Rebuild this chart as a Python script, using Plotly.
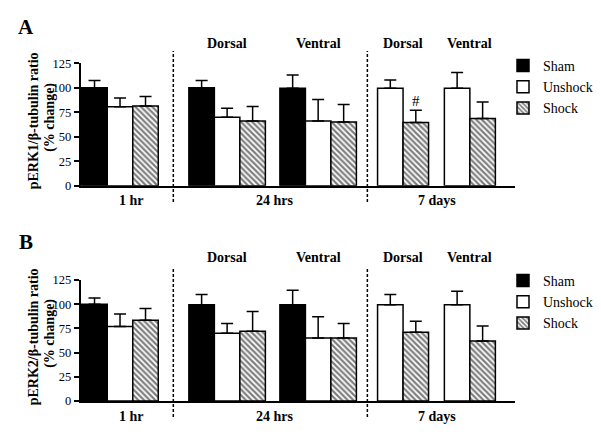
import plotly.graph_objects as go

# ---------------- data ----------------
groups = ["1 hr", "24 hrs Dorsal", "24 hrs Ventral", "7 days Dorsal", "7 days Ventral"]
time_labels = ["1 hr", "24 hrs", "7 days"]
region_labels = ["Dorsal", "Ventral", "Dorsal", "Ventral"]
series_names = ["Sham", "Unshock", "Shock"]

# Panel A: pERK1
a_sham = [100, 100, 99.5, None, None]
a_sham_err = [7.5, 7.5, 13.5, None, None]
a_unshock = [80.5, 70, 66, 99.5, 99.5]
a_unshock_err = [9, 9, 22, 8.5, 16]
a_shock = [81.5, 66, 65, 64.5, 68.5]
a_shock_err = [9.5, 15, 18, 12.5, 17]

# Panel B: pERK2
b_sham = [100, 99.5, 99.5, None, None]
b_sham_err = [6.5, 10.5, 15, None, None]
b_unshock = [77, 70, 65, 99.5, 99.5]
b_unshock_err = [13, 10, 22, 10.5, 14]
b_shock = [83.5, 72, 65, 71, 62]
b_shock_err = [12, 20.5, 15, 11.5, 15.5]

y_ticks = [0, 25, 50, 75, 100, 125]

# ---------------- layout constants ----------------
W, H = 601, 441
FONT = "Liberation Serif, Times New Roman, serif"
group_start = [0.05, 4.25, 7.82, 11.65, 14.27]

def slot(gi, si):
    # 7-day groups have no sham bar
    if gi >= 3:
        return si - 1
    return si

X_RANGE = [0, 17.04]
dash_x = [3.64, 11.25]
time_label_x = [2.0, 7.63, 13.97]
X0_PX, X1_PX = 80.5, 515

def px(xp):
    return xp / W

def py(yp):
    return 1 - yp / H

def xdata_to_paper(xv):
    return px(X0_PX + (xv - X_RANGE[0]) / (X_RANGE[1] - X_RANGE[0]) * (X1_PX - X0_PX))

fig = go.Figure()

styles = {
    "Sham": dict(color="black"),
    "Unshock": dict(color="white"),
    "Shock": dict(color="white", pattern=dict(shape="\\", fgcolor="black", bgcolor="white", size=4, solidity=0.55)),
}

panels = [
    ("x", "y", "legend", [a_sham, a_unshock, a_shock], [a_sham_err, a_unshock_err, a_shock_err]),
    ("x2", "y2", "legend2", [b_sham, b_unshock, b_shock], [b_sham_err, b_unshock_err, b_shock_err]),
]

for xa, ya, lg, vals, errs in panels:
    for si, name in enumerate(series_names):
        xs, ys, es = [], [], []
        for gi in range(len(groups)):
            v = vals[si][gi]
            if v is None:
                continue
            xs.append(group_start[gi] + slot(gi, si) + 0.5)
            ys.append(v)
            es.append(errs[si][gi])
        st = styles[name]
        marker = dict(color=st["color"], line=dict(color="black", width=1.5))
        if "pattern" in st:
            marker["pattern"] = st["pattern"]
        fig.add_trace(go.Bar(
            x=xs, y=ys, width=1, name=name, marker=marker,
            xaxis=xa, yaxis=ya, legend=lg,
            error_y=dict(type="data", symmetric=False, array=es, arrayminus=[0] * len(es),
                         color="black", thickness=1.5, width=6),
        ))

x_dom = [px(X0_PX), px(X1_PX)]
ya_dom = [py(185.7), py(63.3)]
yb_dom = [py(401), py(280)]

axis_common_y = dict(range=[0, 125], tickvals=y_ticks, showline=True, linecolor="black", linewidth=1.5,
                     ticks="outside", ticklen=5, tickwidth=1.5, tickcolor="black", showgrid=False,
                     zeroline=False, tickfont=dict(family=FONT, size=12.5, color="black"), automargin=False,
                     fixedrange=True)
axis_common_x = dict(range=X_RANGE, showline=True, linecolor="black", linewidth=1.5, showticklabels=False,
                     ticks="", showgrid=False, zeroline=False, automargin=False, domain=x_dom, fixedrange=True)

legend_font = dict(family=FONT, size=14, color="black")
fig.update_layout(
    width=W, height=H,
    margin=dict(l=0, r=0, t=0, b=0, autoexpand=False),
    paper_bgcolor="white", plot_bgcolor="white",
    barmode="overlay",
    font=dict(family=FONT, color="black"),
    xaxis=dict(**axis_common_x, anchor="y"),
    yaxis=dict(**axis_common_y, domain=ya_dom, anchor="x"),
    xaxis2=dict(**axis_common_x, anchor="y2"),
    yaxis2=dict(**axis_common_y, domain=yb_dom, anchor="x2"),
    legend=dict(x=px(503), y=py(50), xanchor="left", yanchor="top", font=legend_font,
                bgcolor="rgba(0,0,0,0)", itemclick=False),
    legend2=dict(x=px(503), y=py(265), xanchor="left", yanchor="top", font=legend_font,
                 bgcolor="rgba(0,0,0,0)", itemclick=False),
)

shapes = []
annotations = []
for letter, prot, title_y1, title_y2, letter_y, zero_px, top_px, time_px, region_px in [
    ("A", "pERK1", 121, 117.5, 27, 202, 51, 200, 43),
    ("B", "pERK2", 337, 333.5, 241.5, 417, 267, 416.5, 257.5),
]:
    for dx in dash_x:
        shapes.append(dict(type="line", xref="paper", yref="paper", x0=xdata_to_paper(dx), x1=xdata_to_paper(dx),
                           y0=py(zero_px), y1=py(top_px),
                           line=dict(color="black", width=1.5, dash="3px,2px")))
    for lbl, lx in zip(time_labels, time_label_x):
        annotations.append(dict(xref="paper", yref="paper", x=xdata_to_paper(lx), y=py(time_px),
                                xanchor="center", yanchor="middle",
                                text="<b>%s</b>" % lbl, showarrow=False,
                                font=dict(family=FONT, size=14, color="black")))
    for gi, lbl in zip(range(1, 5), region_labels):
        n = 3 if gi < 3 else 2
        cx = group_start[gi] + n / 2
        annotations.append(dict(xref="paper", yref="paper", x=xdata_to_paper(cx), y=py(region_px),
                                xanchor="center", yanchor="middle",
                                text="<b>%s</b>" % lbl, showarrow=False,
                                font=dict(family=FONT, size=14, color="black")))
    annotations.append(dict(xref="paper", yref="paper", x=px(26), y=py(letter_y), text="<b>%s</b>" % letter,
                            xanchor="center", yanchor="middle",
                            showarrow=False, font=dict(family=FONT, size=21, color="black")))
    annotations.append(dict(xref="paper", yref="paper", x=px(33.3), y=py(title_y1),
                            text="<b>%s/β-tubulin ratio</b>" % prot,
                            xanchor="center", yanchor="middle",
                            textangle=-90, showarrow=False, font=dict(family=FONT, size=14, color="black")))
    annotations.append(dict(xref="paper", yref="paper", x=px(49.3), y=py(title_y2),
                            text="<b>(% change)</b>",
                            xanchor="center", yanchor="middle",
                            textangle=-90, showarrow=False, font=dict(family=FONT, size=14, color="black")))

# significance mark over 7-day dorsal shock bar (panel A)
sig_x = group_start[3] + slot(3, 2) + 0.5
sig_y = a_shock[3] + a_shock_err[3] + 9
annotations.append(dict(xref="x", yref="y", x=sig_x, y=sig_y, text="#", showarrow=False,
                        font=dict(family=FONT, size=15, color="black")))

fig.update_layout(shapes=shapes, annotations=annotations)
fig.write_html("out.html", config={"displayModeBar": False},
               post_script="document.body.style.margin='0px';")
